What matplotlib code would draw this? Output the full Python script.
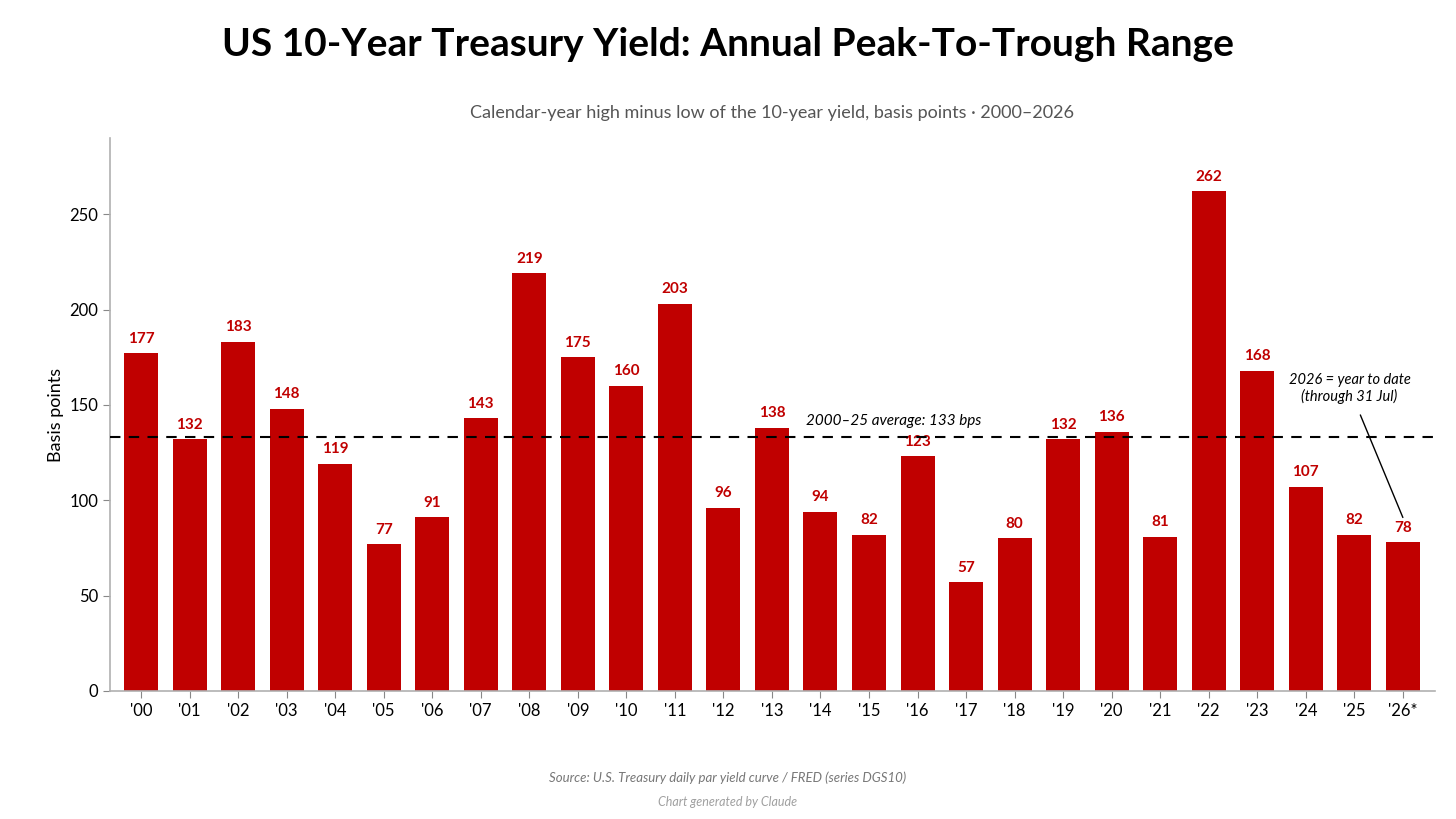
import matplotlib
matplotlib.use("Agg")
import matplotlib.pyplot as plt

# data
years = ["'00", "'01", "'02", "'03", "'04", "'05", "'06", "'07", "'08", "'09",
         "'10", "'11", "'12", "'13", "'14", "'15", "'16", "'17", "'18", "'19",
         "'20", "'21", "'22", "'23", "'24", "'25", "'26*"]
ranges_bps = [177, 132, 183, 148, 119, 77, 91, 143, 219, 175,
              160, 203, 96, 138, 94, 82, 123, 57, 80, 132,
              136, 81, 262, 168, 107, 82, 78]
avg_bps = 133
yticks = [0, 50, 100, 150, 200, 250]

plt.rcParams['font.family'] = ['Lato', 'DejaVu Sans']

RED = '#c00000'

fig = plt.figure(figsize=(14.56, 8.19), dpi=100)
ax = fig.add_axes([0.0755, 0.1563, 0.91, 0.6752])

x = list(range(len(years)))
ax.bar(x, ranges_bps, width=0.7, color=RED, zorder=2)

for xi, v in zip(x, ranges_bps):
    ax.text(xi, v + 4, str(v), ha='center', va='bottom', color=RED,
            fontsize=11, fontweight='bold')

# average line
ax.axhline(avg_bps, color='black', linestyle=(0, (5, 4)), linewidth=1.5, zorder=3)
ax.text(15.5, avg_bps + 5, "2000–25 average: 133 bps", ha='center', va='bottom',
        fontsize=11, style='italic')

# note for the partial year
ax.annotate("2026 = year to date\n(through 31 Jul)", xy=(26, 91),
            xytext=(24.9, 158.5), ha='center', va='center', fontsize=10.5,
            style='italic',
            arrowprops=dict(arrowstyle='-', color='black', lw=1,
                            shrinkA=6, shrinkB=0))

ax.set_xlim(-0.64, 26.66)
ax.set_ylim(0, 290)
ax.set_xticks(x)
ax.set_xticklabels(years, fontsize=12)
ax.set_yticks(yticks)
ax.tick_params(axis='y', labelsize=12)
ax.tick_params(colors='#888888', labelcolor='black', length=5)
ax.set_ylabel("Basis points", fontsize=13)

for s in ['top', 'right']:
    ax.spines[s].set_visible(False)
for s in ['left', 'bottom']:
    ax.spines[s].set_color('#b0b0b0')
    ax.spines[s].set_linewidth(1.2)

fig.text(0.5, 0.946, "US 10-Year Treasury Yield: Annual Peak-To-Trough Range",
         ha='center', va='center', fontsize=28, fontweight='bold')
fig.text(0.5305, 0.862,
         "Calendar-year high minus low of the 10-year yield, basis points · 2000–2026",
         ha='center', va='center', fontsize=13, color='#555555')
fig.text(0.5, 0.051, "Source: U.S. Treasury daily par yield curve / FRED (series DGS10)",
         ha='center', va='center', fontsize=9.5, color='#777777', style='italic')
fig.text(0.5, 0.021, "Chart generated by Claude",
         ha='center', va='center', fontsize=9, color='#a0a0a0', style='italic')

fig.savefig("out.png", dpi=100)
